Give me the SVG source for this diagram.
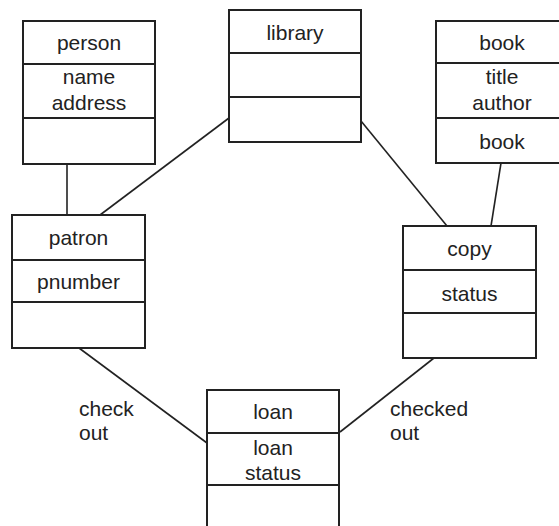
<svg xmlns="http://www.w3.org/2000/svg" width="559" height="526" viewBox="0 0 559 526">
<style>
.box{fill:#fff;stroke:#222;stroke-width:2}
.div{stroke:#222;stroke-width:2}
.t{font-family:"Liberation Sans",Arial,sans-serif;font-size:21px;fill:#222;text-anchor:middle}
.l{font-family:"Liberation Sans",Arial,sans-serif;font-size:21px;fill:#222}
.c{stroke:#222;stroke-width:1.6;fill:none}
</style>
<rect width="559" height="526" fill="#fff"/>
<g id="connectors">
<line class="c" x1="67" y1="164" x2="67" y2="215"/>
<line class="c" x1="229" y1="118" x2="100" y2="215"/>
<line class="c" x1="361" y1="121" x2="447" y2="226"/>
<line class="c" x1="501" y1="163" x2="491" y2="226"/>
<line class="c" x1="79" y1="348" x2="207" y2="443"/>
<line class="c" x1="434" y1="358" x2="340" y2="432"/>
<text class="l" x="79" y="416">check</text>
<text class="l" x="79" y="440">out</text>
<text class="l" x="390" y="416">checked</text>
<text class="l" x="390" y="440">out</text>
</g>
<g id="person">
<rect class="box" x="23" y="21" width="132" height="143"/>
<line class="div" x1="23" y1="64" x2="155" y2="64"/>
<line class="div" x1="23" y1="118" x2="155" y2="118"/>
<text class="t" x="89" y="50">person</text>
<text class="t" x="89" y="84">name</text>
<text class="t" x="89" y="110">address</text>
</g>
<g id="library">
<rect class="box" x="229" y="10" width="132" height="132"/>
<line class="div" x1="229" y1="53" x2="361" y2="53"/>
<line class="div" x1="229" y1="97" x2="361" y2="97"/>
<text class="t" x="295" y="40">library</text>
</g>
<g id="book">
<rect class="box" x="436" y="21" width="132" height="142"/>
<line class="div" x1="436" y1="63" x2="568" y2="63"/>
<line class="div" x1="436" y1="118" x2="568" y2="118"/>
<text class="t" x="502" y="50">book</text>
<text class="t" x="502" y="84">title</text>
<text class="t" x="502" y="110">author</text>
<text class="t" x="502" y="149">book</text>
</g>
<g id="patron">
<rect class="box" x="12" y="215" width="133" height="133"/>
<line class="div" x1="12" y1="260" x2="145" y2="260"/>
<line class="div" x1="12" y1="302" x2="145" y2="302"/>
<text class="t" x="78.5" y="245">patron</text>
<text class="t" x="78.5" y="289">pnumber</text>
</g>
<g id="copy">
<rect class="box" x="403" y="226" width="133" height="132"/>
<line class="div" x1="403" y1="270" x2="536" y2="270"/>
<line class="div" x1="403" y1="313" x2="536" y2="313"/>
<text class="t" x="469.5" y="256">copy</text>
<text class="t" x="469.5" y="301">status</text>
</g>
<g id="loan">
<rect class="box" x="207" y="390" width="132" height="143"/>
<line class="div" x1="207" y1="433" x2="339" y2="433"/>
<line class="div" x1="207" y1="485" x2="339" y2="485"/>
<text class="t" x="273" y="419">loan</text>
<text class="t" x="273" y="455">loan</text>
<text class="t" x="273" y="480">status</text>
</g>
</svg>
